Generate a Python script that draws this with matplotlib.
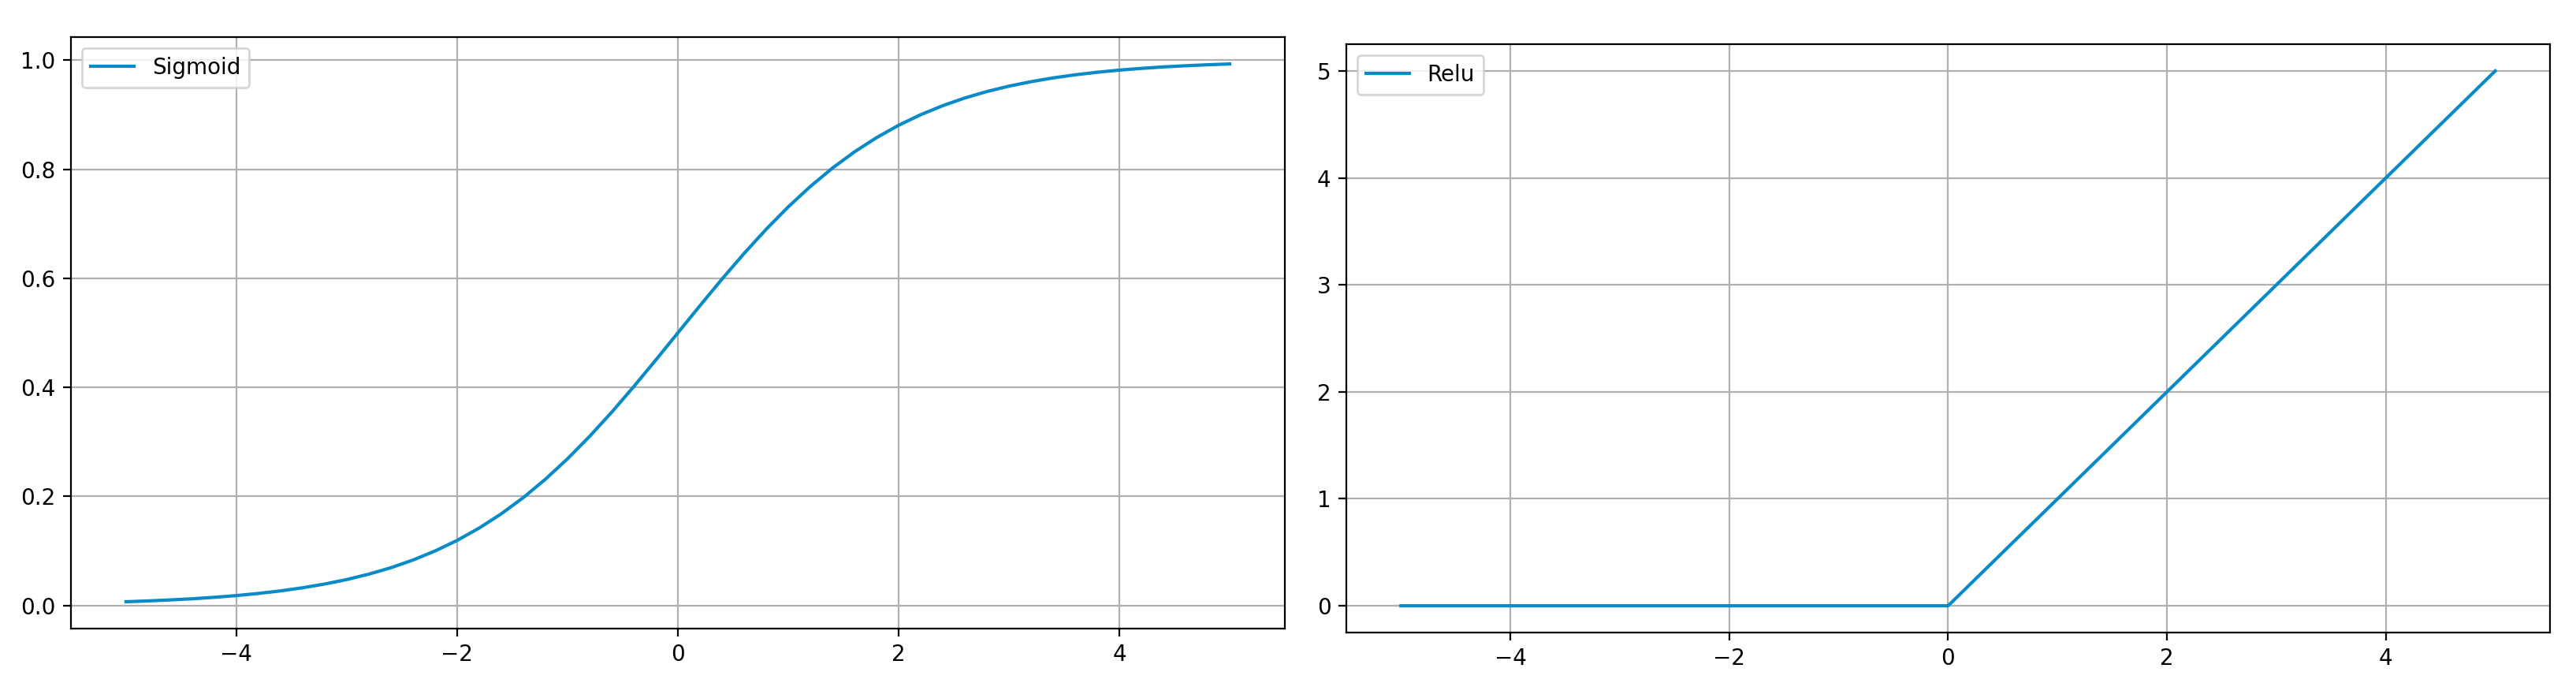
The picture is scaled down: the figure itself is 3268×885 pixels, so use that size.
import numpy as np
import matplotlib
matplotlib.use('Agg')
import matplotlib.pyplot as plt

# values
sig_x = [-5.0, -4.8, -4.6, -4.4, -4.2, -4.0, -3.8, -3.6, -3.4, -3.2,
         -3.0, -2.8, -2.6, -2.4, -2.2, -2.0, -1.8, -1.6, -1.4, -1.2,
         -1.0, -0.8, -0.6, -0.4, -0.2, 0.0, 0.2, 0.4, 0.6, 0.8,
         1.0, 1.2, 1.4, 1.6, 1.8, 2.0, 2.2, 2.4, 2.6, 2.8,
         3.0, 3.2, 3.4, 3.6, 3.8, 4.0, 4.2, 4.4, 4.6, 4.8, 5.0]
sig_y = [0.0067, 0.0082, 0.0100, 0.0121, 0.0148, 0.0180, 0.0219, 0.0266, 0.0323, 0.0392,
         0.0474, 0.0573, 0.0691, 0.0832, 0.0998, 0.1192, 0.1419, 0.1680, 0.1978, 0.2315,
         0.2689, 0.3100, 0.3543, 0.4013, 0.4502, 0.5000, 0.5498, 0.5987, 0.6457, 0.6900,
         0.7311, 0.7685, 0.8022, 0.8320, 0.8581, 0.8808, 0.9002, 0.9168, 0.9309, 0.9427,
         0.9526, 0.9608, 0.9677, 0.9734, 0.9781, 0.9820, 0.9852, 0.9879, 0.9900, 0.9918, 0.9933]
relu_x = [-5.0, 0.0, 5.0]
relu_y = [0.0, 0.0, 5.0]

line_color = '#0a8ac6'

fig = plt.figure(figsize=(16.34, 4.425), dpi=200)
ax1 = fig.add_axes([0.0275, 0.0994, 0.4713, 0.8475])
ax2 = fig.add_axes([0.5226, 0.0938, 0.4673, 0.8429])

ax1.plot(sig_x, sig_y, color=line_color, label='Sigmoid')
ax1.set_yticks([0.0, 0.2, 0.4, 0.6, 0.8, 1.0])
ax1.grid(True)
ax1.legend(loc='upper left')

ax2.plot(relu_x, relu_y, color=line_color, label='Relu')
ax2.grid(True)
ax2.legend(loc='upper left')

for ax in (ax1, ax2):
    ax.set_xticks([-4, -2, 0, 2, 4])

fig.savefig('out.png', dpi=200)
